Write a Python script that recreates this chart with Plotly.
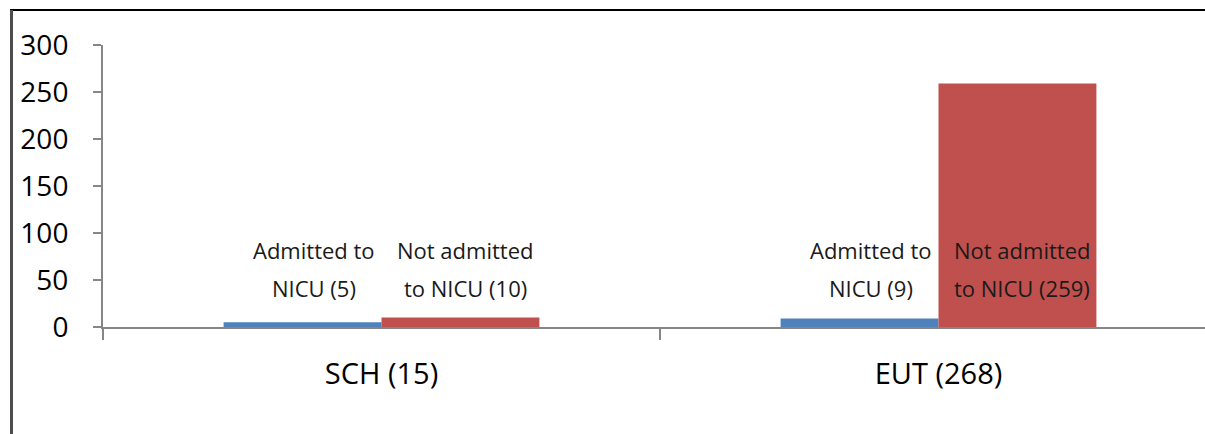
import plotly.graph_objects as go

# Data
groups = ["SCH (15)", "EUT (268)"]
admitted = [5, 9]
not_admitted = [10, 259]
series_names = ["Admitted to NICU", "Not admitted to NICU"]

BLUE = "#4F81BD"
RED = "#C0504D"
AXIS = "#868686"
FONT = "Open Sans"

fig = go.Figure()
fig.add_trace(go.Bar(x=groups, y=admitted, name=series_names[0],
                     marker=dict(color=BLUE, line=dict(width=0))))
fig.add_trace(go.Bar(x=groups, y=not_admitted, name=series_names[1],
                     marker=dict(color=RED, line=dict(width=0))))

# Two-line labels above each bar, anchored to the bar's slot in its group
offsets = {0: -0.142 + 0.02, 1: 0.142 + 0.008}
label_y = [82, 42]
for i, g in enumerate(groups):
    lines_a = ["Admitted to", f"NICU ({admitted[i]})"]
    lines_b = ["Not admitted", f"to NICU ({not_admitted[i]})"]
    for k, (la, lb) in enumerate(zip(lines_a, lines_b)):
        fig.add_annotation(x=i + offsets[0], y=label_y[k], text=la, showarrow=False,
                           xref="x", yref="y", font=dict(family=FONT, size=22, color="#1a1a1a"))
        fig.add_annotation(x=i + offsets[1], y=label_y[k], text=lb, showarrow=False,
                           xref="x", yref="y", font=dict(family=FONT, size=22, color="#1a1a1a"))

W, H = 1205, 434
L, T, B = 103, 45, 107
pw = W - L
ph = H - T - B

def px(p):
    return (p - L) / pw

def py(p):
    return (H - B - p) / ph

# Frame lines
fig.add_shape(type="line", xref="paper", yref="paper",
              x0=px(10), x1=px(1205), y0=py(10), y1=py(10),
              line=dict(color="#000000", width=2))
fig.add_shape(type="line", xref="paper", yref="paper",
              x0=px(11.5), x1=px(11.5), y0=py(10), y1=py(434),
              line=dict(color="#4d4d4d", width=3))

fig.update_layout(
    width=W, height=H,
    margin=dict(l=L, r=0, t=T, b=B, pad=0),
    paper_bgcolor="white", plot_bgcolor="white",
    barmode="group", bargap=0.433, bargroupgap=0,
    showlegend=False,
    font=dict(family=FONT, color="#000000"),
)
fig.update_xaxes(
    type="category", range=[-0.5, -0.5 + pw / 557],
    showline=True, linecolor=AXIS, linewidth=2,
    ticks="outside", tickson="boundaries", ticklen=11, tickwidth=2, tickcolor=AXIS,
    tickfont=dict(family=FONT, size=29, color="#000000"),
    ticklabelstandoff=20, showgrid=False, zeroline=False,
)
fig.update_yaxes(
    range=[0, 300], tickvals=[0, 50, 100, 150, 200, 250, 300],
    showline=True, linecolor=AXIS, linewidth=2,
    ticks="outside", ticklen=8, tickwidth=2, tickcolor=AXIS,
    tickfont=dict(family=FONT, size=28, color="#000000"),
    ticklabelstandoff=19, showgrid=False, zeroline=False,
)

fig.write_html("out.html")
